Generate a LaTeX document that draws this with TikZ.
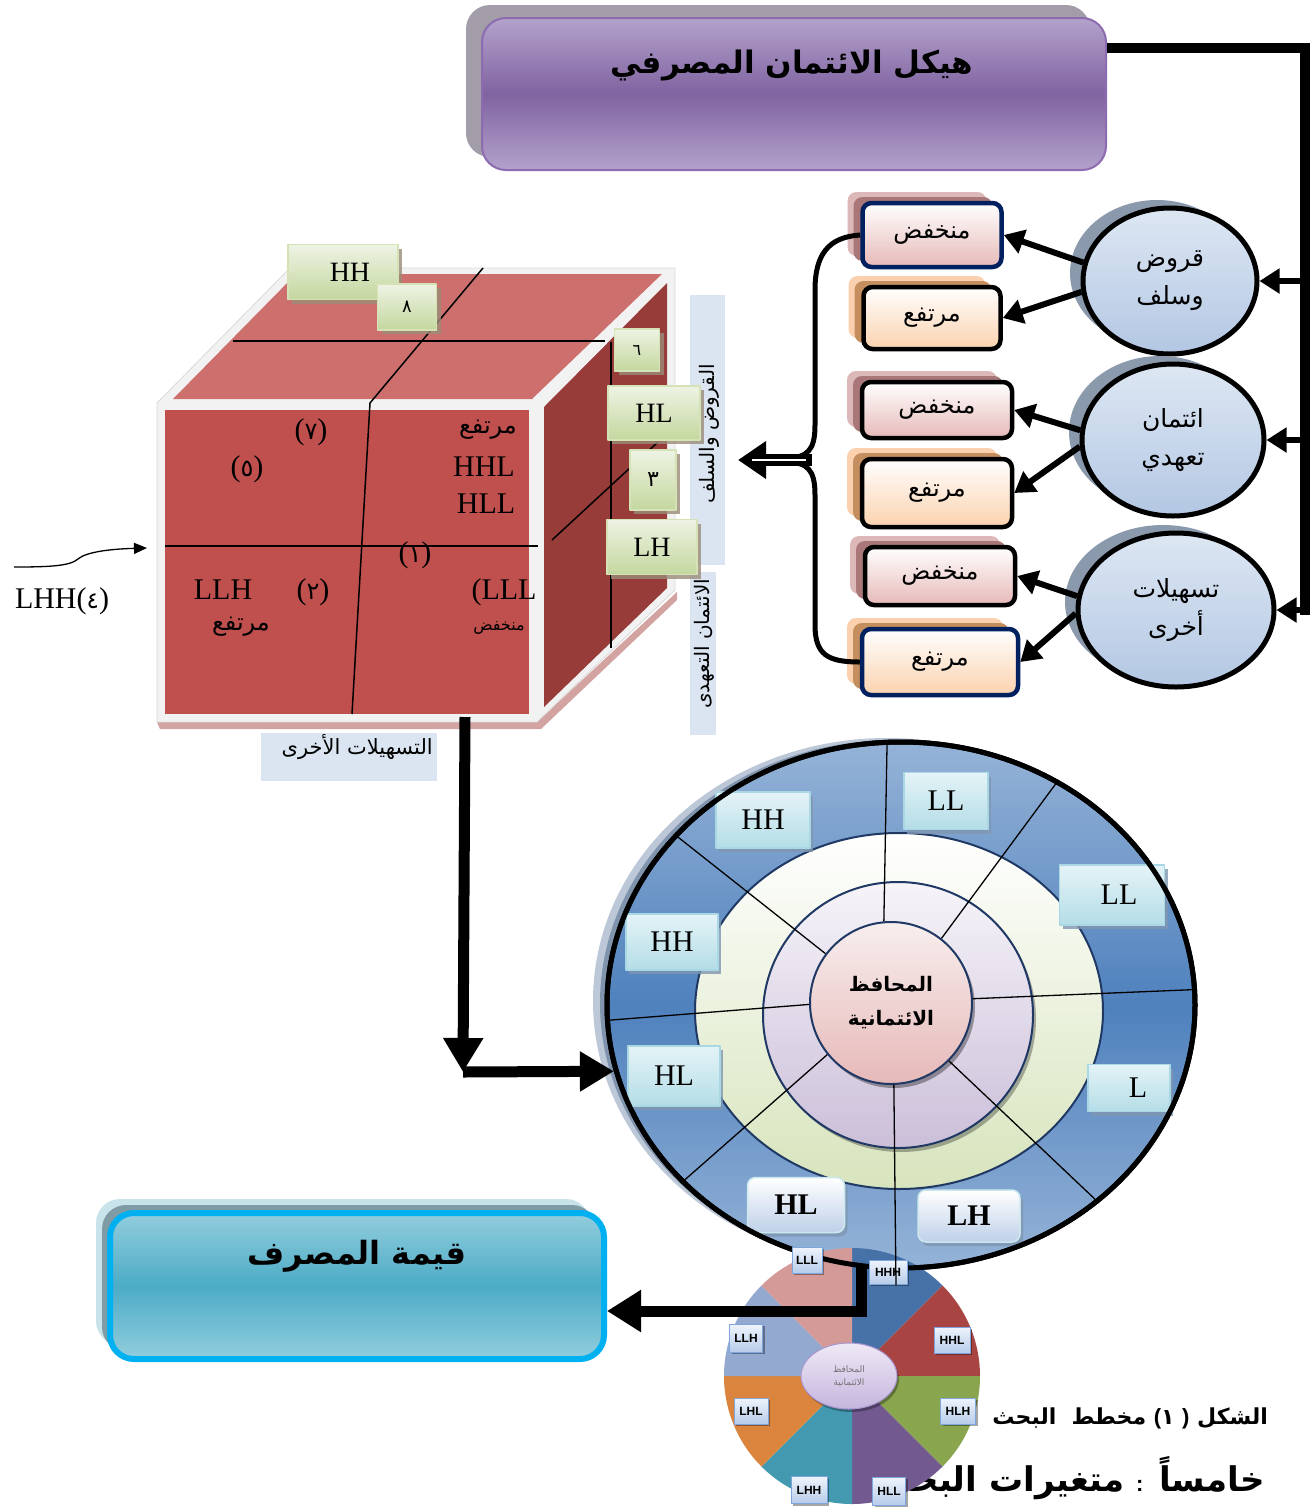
\documentclass[tikz,border=0pt]{standalone}
\usepackage{fontspec}
\usetikzlibrary{arrows.meta,shapes.geometric,shadows,calc}
\setmainfont{Liberation Serif}
\newfontfamily\arabicfont[Script=Arabic]{DejaVu Sans}
\newfontfamily\sansfn{Liberation Sans}
\TeXXeTstate=1
\newcommand{\artx}[1]{{\arabicfont\beginR #1\endR}}
\newcommand{\fsz}[1]{\fontsize{#1}{#1}\selectfont}
\newcommand{\pdig}[1]{({\arabicfont\fsz{24}#1})}
\definecolor{titleL}{HTML}{B3A2CB}
\definecolor{titleD}{HTML}{8063A1}
\definecolor{titleB}{HTML}{8C6BB1}
\definecolor{titleS}{HTML}{A29DA9}
\definecolor{ellT}{HTML}{DDE7F3}
\definecolor{ellB}{HTML}{B3C7E3}
\definecolor{ellS}{HTML}{8A99AB}
\definecolor{navy}{HTML}{002060}
\definecolor{pinkF}{HTML}{E6B9B8}
\definecolor{pinkS1}{HTML}{DDB8B8}
\definecolor{pinkS2}{HTML}{A97777}
\definecolor{peachF}{HTML}{FBD2AE}
\definecolor{peachS1}{HTML}{FBD0AE}
\definecolor{peachS2}{HTML}{C58E5E}
\definecolor{lblbg}{HTML}{DBE5F1}
\definecolor{cubeF}{HTML}{C0504D}
\definecolor{cubeT}{HTML}{CD706D}
\definecolor{cubeR}{HTML}{983C3A}
\definecolor{cubeE}{HTML}{F2F2F2}
\definecolor{cubeSh}{HTML}{D3A3A2}
\definecolor{gT}{HTML}{EEF3E4}
\definecolor{gB}{HTML}{C4D79E}
\definecolor{gBd}{HTML}{D4E2B6}
\definecolor{gSh}{HTML}{9A8C78}
\definecolor{ringL}{HTML}{95B3D7}
\definecolor{ringD}{HTML}{4F81BD}
\definecolor{ringS1}{HTML}{BCC8D8}
\definecolor{ringS2}{HTML}{8094AD}
\definecolor{grB}{HTML}{D7E4BC}
\definecolor{prT}{HTML}{F6F4F9}
\definecolor{prB}{HTML}{CBBFD9}
\definecolor{coreT}{HTML}{F8EEEE}
\definecolor{coreB}{HTML}{E6B9B8}
\definecolor{ringN}{HTML}{1F3864}
\definecolor{rlT}{HTML}{E4F3F7}
\definecolor{rlB}{HTML}{B4DDE7}
\definecolor{rlBd}{HTML}{A9D8E4}
\definecolor{rlSh}{HTML}{7F96B0}
\definecolor{rwB}{HTML}{BFD0E9}
\definecolor{pHHH}{HTML}{4672A8}
\definecolor{pHHL}{HTML}{A84442}
\definecolor{pHLH}{HTML}{89A54E}
\definecolor{pHLL}{HTML}{72598F}
\definecolor{pLHH}{HTML}{4299B0}
\definecolor{pLHL}{HTML}{DB843D}
\definecolor{pLLH}{HTML}{93A9CF}
\definecolor{pLLL}{HTML}{D49A98}
\definecolor{pbT}{HTML}{EEF4FC}
\definecolor{pbB}{HTML}{B7CCEA}
\definecolor{pbBd}{HTML}{7EA6DC}
\definecolor{pcT}{HTML}{EEE9F5}
\definecolor{pcB}{HTML}{C5B5DE}
\definecolor{pcBd}{HTML}{A894CF}
\definecolor{valT}{HTML}{93CDDD}
\definecolor{valD}{HTML}{4BACC6}
\definecolor{valBd}{HTML}{00B0F0}
\definecolor{valS1}{HTML}{C9E3EA}
\definecolor{valS2}{HTML}{7F9BA6}
\tikzset{
 bigarr/.style={line width=6pt,-{Triangle[length=20pt,width=24pt]}},
 thickarr/.style={line width=11pt,-{Triangle[length=34pt,width=38pt]}},
 ellnode/.style={ellipse,draw=black,line width=5pt,top color=ellT,bottom color=ellB,
   preaction={fill=ellS,transform canvas={shift={(-13pt,8pt)}}},
   align=center,inner sep=0pt,font=\arabicfont\fontsize{25}{38}\selectfont},
 arbox/.style={rectangle,rounded corners=9pt,line width=4.5pt,inner sep=0pt,font=\arabicfont\fontsize{24}{26}\selectfont},
 pinkbox/.style={arbox,top color=white,bottom color=pinkF,
   preaction={fill=pinkS1,transform canvas={shift={(-15pt,11pt)}}},
   preaction={fill=pinkS2,transform canvas={shift={(-9pt,6pt)}}}},
 peachbox/.style={arbox,top color=white,bottom color=peachF,
   preaction={fill=peachS1,transform canvas={shift={(-15pt,11pt)}}},
   preaction={fill=peachS2,transform canvas={shift={(-9pt,6pt)}}}},
 lblbox/.style={rectangle,fill=lblbg,inner sep=0pt},
 gbox/.style={rectangle,draw=gBd,line width=1.5pt,top color=gT,bottom color=gB,inner sep=0pt,
   drop shadow={shadow xshift=4pt,shadow yshift=-4pt,fill=gSh,opacity=0.8}},
 rlbl/.style={rectangle,draw=rlBd,line width=1.5pt,top color=rlT,bottom color=rlB,inner sep=0pt,
   drop shadow={shadow xshift=3pt,shadow yshift=-4pt,fill=rlSh,opacity=0.8},font=\fsz{30}},
 rwht/.style={rectangle,rounded corners=8pt,draw=rlBd!60!white,line width=1.5pt,top color=white,bottom color=rwB,inner sep=0pt,
   drop shadow={shadow xshift=3pt,shadow yshift=-4pt,fill=rlSh,opacity=0.8},font=\bfseries\fsz{30}},
 pbox/.style={rectangle,draw=pbBd,line width=1pt,top color=pbT,bottom color=pbB,inner sep=0pt,
   drop shadow={shadow xshift=2pt,shadow yshift=-2pt,fill=black,opacity=0.35},font=\sansfn\bfseries\fsz{12}},
 cubetxt/.style={font=\fsz{30},inner sep=0pt},
 cubear/.style={font=\arabicfont\fsz{24},inner sep=0pt},
}
\begin{document}
\begin{tikzpicture}[x=1pt,y=-1pt,line join=round]
\useasboundingbox (0,0) rectangle (1314,1508);
\fill[white] (0,0) rectangle (1314,1508);

% ---------- title ----------
\node[rectangle,rounded corners=24pt,minimum width=624pt,minimum height=152pt,draw=titleB,line width=2pt,
  top color=titleL,bottom color=titleL,middle color=titleD,
  preaction={fill=titleS,transform canvas={shift={(-16pt,13pt)}}}] (title) at (794,94) {};
\node[font=\arabicfont\bfseries\fsz{31}] (titletx) at (792,66) {\artx{هيكل الائتمان المصرفي}};

\coordinate (tbA) at (1305,48);
\coordinate (tbB) at (1305,615);
\draw[line width=10pt,line join=miter] (title.east |- tbA) -- (tbA) -- (tbB);

% ---------- ellipses ----------
\node[ellnode,minimum width=174pt,minimum height=146pt] (e1) at (1170,281) {\artx{قروض}\\\artx{وسلف}};
\node[ellnode,minimum width=182pt,minimum height=152pt] (e2) at (1173,440) {\artx{ائتمان}\\\artx{تعهدي}};
\node[ellnode,minimum width=196pt,minimum height=154pt] (e3) at (1176,610) {\artx{تسهيلات}\\\artx{أخرى}};

\draw[bigarr] (tbB |- e1.east) -- (e1.east);
\draw[bigarr] (tbB |- e2.east) -- (e2.east);
\draw[bigarr] (tbB |- e3.east) -- (e3.east);

% ---------- boxes ----------
\node[pinkbox,draw=navy,minimum width=139pt,minimum height=64pt] (b1) at (932,235) {\artx{منخفض}};
\node[peachbox,draw=black,minimum width=137pt,minimum height=62pt] (b2) at (932,318) {\artx{مرتفع}};
\node[pinkbox,draw=black,minimum width=150pt,minimum height=56pt] (b3) at (937,410) {\artx{منخفض}};
\node[peachbox,draw=black,minimum width=150pt,minimum height=68pt] (b4) at (937,493) {\artx{مرتفع}};
\node[pinkbox,draw=black,minimum width=150pt,minimum height=58pt] (b5) at (940,576) {\artx{منخفض}};
\node[peachbox,draw=navy,minimum width=156pt,minimum height=66pt] (b6) at (940,662) {\artx{مرتفع}};

\draw[bigarr] (e1.168) -- (b1.east);
\draw[bigarr] (e1.187) -- (b2.east);
\draw[bigarr] (e2.174) -- (b3.east);
\draw[bigarr] (e2.184) -- (b4.east);
\draw[bigarr] (e3.172) -- (b5.east);
\draw[bigarr] (e3.182) -- (b6.east);

% ---------- brace ----------
\coordinate (bm) at (812,460);
\coordinate (bt) at (738,460);
\draw[line width=5pt] (b1.west) .. controls (828,237) and (815,255) .. (815,290) -- (815,425)
   .. controls (815,450) and (808,458) .. (785,458);
\draw[line width=5pt] (785,462) .. controls (808,462) and (815,470) .. (815,495) -- (815,625)
   .. controls (815,655) and (828,662) .. (b6.west);
\draw[line width=12pt,line cap=butt,-{Triangle[length=28pt,width=36pt]}] (bm) -- (bt);
\draw[white,line width=1.5pt] (806,460) -- (752,460);

% ---------- cube ----------
\fill[cubeSh] (157,722) -- (537,722) -- (677,592) -- (677,600) -- (541,729) -- (160,729) -- cycle;
\filldraw[fill=cubeE,draw=black!15,line width=0.8pt] (157,403) -- (290,268) -- (675,268) -- (675,590) -- (537,722) -- (157,722) -- cycle;
\fill[cubeT] (173,399) -- (296,274) -- (662,274) -- (532,399) -- cycle;
\fill[cubeR] (544,407) -- (667,283) -- (667,588) -- (544,707) -- cycle;
\fill[cubeF] (165,410) rectangle (529,714);
\draw[line width=1.5pt] (233,341) -- (605,341);
\draw[line width=1.5pt] (483,268) -- (370,403) -- (352,714);
\draw[line width=1.5pt] (165,546) -- (538,546);
\draw[line width=1.5pt] (611,342) -- (611,648);
\draw[line width=1.5pt] (552,540) -- (658,442);

\node[cubetxt] (c7) at (311,432) {\pdig{٧}};
\node[cubetxt] (c5) at (247,469) {\pdig{٥}};
\node[cubear] (cm1) at (488,430) {\artx{مرتفع}};
\node[cubetxt] (chhl) at (484,467) {HHL};
\node[cubetxt] (chll) at (486,504) {HLL};
\node[cubetxt] (c1) at (415,555) {\pdig{١}};
\node[cubetxt] (cllh) at (223,590) {LLH};
\node[cubetxt] (c2) at (313,592) {\pdig{٢}};
\node[cubetxt] (clll) at (504,592) {(LLL};
\node[font=\arabicfont\fsz{16},inner sep=0pt] (cmn) at (499,628) {\artx{منخفض}};
\node[cubear] (cm2) at (241,627) {\artx{مرتفع}};

\node[font=\fsz{30},inner sep=0pt] (lhh) at (62,601) {LHH({\arabicfont\fsz{23}٤})};
\coordinate (la) at (14,567);
\draw[line width=1.3pt,-{Triangle[length=13pt,width=11pt]}] (la) .. controls (50,567) and (70,566) .. (78,559)
   .. controls (86,552) and (110,549) .. (147,548);

% ---------- label boxes ----------
\node[lblbox,minimum width=35pt,minimum height=270pt] (lq) at (707,430) {};
\node[rotate=90,font=\arabicfont\fsz{20},inner sep=0pt] (lqt) at (709,434) {\artx{القروض والسلف}};
\node[lblbox,minimum width=26pt,minimum height=163pt] (lt) at (703,653) {};
\node[rotate=90,font=\arabicfont\fsz{20},inner sep=0pt] (ltt) at (704,644) {\artx{الائتمان التعهدى}};
\node[lblbox,minimum width=176pt,minimum height=48pt] (ls) at (349,757) {};
\node[font=\arabicfont\fsz{21},inner sep=0pt,anchor=east] (lst) at (433,747) {\artx{التسهيلات الأخرى}};

% ---------- green boxes ----------
\node[gbox,minimum width=110pt,minimum height=55pt,font=\fsz{28}] (gHH) at (343,272) {\hspace*{14pt}HH};
\node[gbox,minimum width=59pt,minimum height=46pt,font=\arabicfont\fsz{18}] (g8) at (407,307) {٨};
\node[gbox,minimum width=45pt,minimum height=42pt,font=\arabicfont\fsz{16}] (g6) at (637,350) {٦};
\node[gbox,minimum width=92pt,minimum height=54pt,font=\fsz{28}] (gHL) at (654,413) {HL};
\node[gbox,minimum width=46pt,minimum height=60pt,font=\arabicfont\fsz{22}] (g3) at (653,480) {٣};
\node[gbox,minimum width=90pt,minimum height=55pt,font=\fsz{28}] (gLH) at (652,547) {LH};

% ---------- arrow cube -> ring ----------
\coordinate (ca) at (465,717);
\coordinate (cb) at (463,1072);

% ---------- ring ----------
\node[ellipse,minimum width=588pt,minimum height=526pt,draw=black,line width=5pt,inner sep=0pt,
  top color=ringL,bottom color=ringL,middle color=ringD,
  preaction={fill=ringS1,transform canvas={shift={(-14pt,4pt)}}},
  preaction={fill=ringS2,transform canvas={shift={(-7pt,2pt)}}}] (ring) at (901,1005) {};
\node[ellipse,minimum width=408pt,minimum height=356pt,draw=ringN,line width=2pt,inner sep=0pt,
  top color=white,bottom color=grB] (gring) at (899,1011) {};
\node[ellipse,minimum width=270pt,minimum height=266pt,draw=ringN,line width=2pt,inner sep=0pt,
  top color=prT,bottom color=prB,drop shadow={shadow xshift=3pt,shadow yshift=-4pt,fill=black,opacity=0.3}] (pring) at (898,1015) {};
\node[circle,minimum size=162pt,draw=ringN,line width=2pt,inner sep=0pt,top color=coreT,bottom color=coreB,
  drop shadow={shadow xshift=3pt,shadow yshift=-4pt,fill=black,opacity=0.35},align=center,
  font=\arabicfont\bfseries\fontsize{20}{34}\selectfont] (core) at (891,1003) {\artx{المحافظ}\\\artx{الائتمانية}};

\draw[line width=1.3pt] (core.95) -- (ring.93);
\draw[line width=1.3pt] (core.52) -- (ring.55);
\draw[line width=1.3pt] (core.3) -- (ring.3);
\draw[line width=1.3pt] (core.-45) -- (ring.-45);
\draw[line width=1.3pt] (core.219) -- (ring.219);
\draw[line width=1.3pt] (core.181) -- (ring.183);
\draw[line width=1.3pt] (core.143) -- (ring.143);

\node[rlbl,minimum width=94pt,minimum height=56pt] (rl1) at (763,820) {HH};
\node[rlbl,minimum width=84pt,minimum height=57pt] (rl2) at (946,801) {LL};
\node[rlbl,minimum width=105pt,minimum height=60pt] (rl3) at (1112,895) {\hspace*{14pt}LL};
\node[rlbl,minimum width=92pt,minimum height=56pt] (rl4) at (672,942) {HH};
\node[rlbl,minimum width=92pt,minimum height=60pt] (rl5) at (674,1076) {HL};
\node[rlbl,minimum width=82pt,minimum height=47pt] (rl6) at (1129,1088) {\hspace*{18pt}L};
\node[rwht,minimum width=97pt,minimum height=55pt] (rl7) at (796,1205) {HL};
\node[rwht,minimum width=102pt,minimum height=52pt] (rl8) at (969,1216) {LH};

\draw[thickarr] (ca) -- (cb);
\draw[thickarr] (cb) -- (ring.193);

% ---------- caption (partly under pie) ----------
\node[anchor=east,font=\arabicfont\bfseries\fsz{22},inner sep=0pt] (cap1) at (1268,1418)
  {\artx{البحث}\ \ \artx{مخطط} {\sansfn\bfseries(}{\arabicfont ١} {\sansfn\bfseries)} \artx{الشكل}};
\node[anchor=east,font=\arabicfont\bfseries\fsz{34},inner sep=0pt] (cap2) at (1265,1478)
  {\artx{البحث} \artx{متغيرات} {\sansfn\fsz{22}:} \artx{خامساً}};

% ---------- pie ----------
\begin{scope}[shift={(852,1376)},y=1pt]
\foreach \a/\b/\c in {45/90/pHHH,0/45/pHHL,-45/0/pHLH,-90/-45/pHLL,-135/-90/pLHH,-180/-135/pLHL,135/180/pLLH,90/135/pLLL}
  \fill[\c] (0,0) -- (\a:128) arc[start angle=\a,end angle=\b,radius=128] -- cycle;
\end{scope}
\draw[line width=5pt] (ring.center) ellipse [x radius=294pt,y radius=263pt];
\node[ellipse,minimum width=96pt,minimum height=66pt,draw=pcBd,line width=1pt,top color=pcT,bottom color=pcB,inner sep=0pt,
  drop shadow={shadow xshift=2pt,shadow yshift=-3pt,fill=black,opacity=0.3},align=center,text=black!55,
  font=\arabicfont\fontsize{9}{13}\selectfont] (pcore) at (849,1376) {\artx{المحافظ}\\\artx{الائتمانية}};
\node[pbox,minimum width=30pt,minimum height=26pt] (pLLLb) at (807,1260) {LLL};
\node[pbox,minimum width=38pt,minimum height=24pt] (pHHHb) at (888,1272) {HHH};
\node[pbox,minimum width=36pt,minimum height=26pt] (pHHLb) at (952,1340) {HHL};
\node[pbox,minimum width=33pt,minimum height=28pt] (pLLHb) at (746,1338) {LLH};
\node[pbox,minimum width=34pt,minimum height=26pt] (pLHLb) at (751,1411) {LHL};
\node[pbox,minimum width=35pt,minimum height=26pt] (pHLHb) at (958,1411) {HLH};
\node[pbox,minimum width=36pt,minimum height=27pt] (pLHHb) at (809,1490) {LHH};
\node[pbox,minimum width=33pt,minimum height=28pt] (pHLLb) at (889,1491) {HLL};
\coordinate (rdown) at (896,1285);
\draw[line width=1.3pt] (core.-88) -- (rdown);

% ---------- value box ----------
\node[rectangle,rounded corners=24pt,minimum width=494pt,minimum height=146pt,draw=valBd,line width=6pt,
  top color=valT,bottom color=valT,middle color=valD,
  preaction={fill=valS1,transform canvas={shift={(-14pt,14pt)}}},
  preaction={fill=valS2,transform canvas={shift={(-8pt,8pt)}}}] (valbox) at (357,1286) {};
\node[font=\arabicfont\bfseries\fsz{32}] (valtx) at (357,1256) {\artx{قيمة المصرف}};

\coordinate (pa) at (861,1266);
\coordinate (pb) at (861,1311);
\draw[line width=11pt,line join=miter,-{Triangle[length=34pt,width=40pt]}] (pa) -- (pb) -- (pb -| valbox.east);
\end{tikzpicture}
\end{document}
